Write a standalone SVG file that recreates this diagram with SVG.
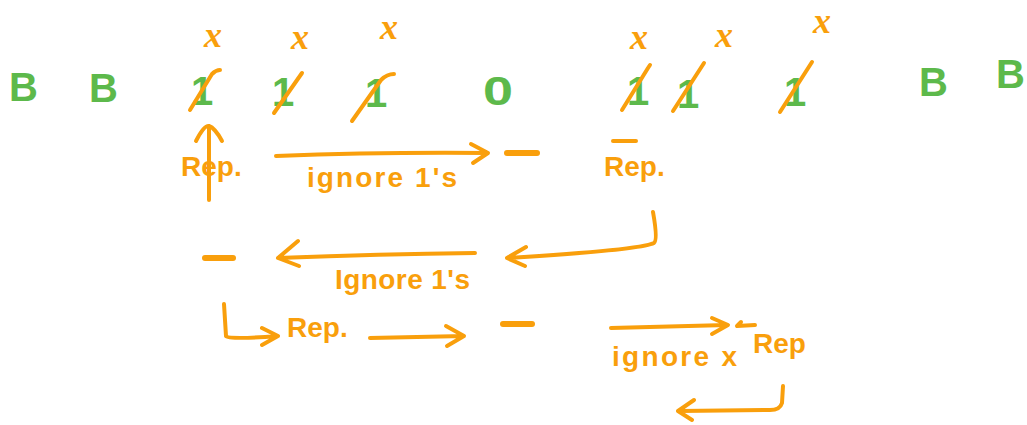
<svg xmlns="http://www.w3.org/2000/svg" width="1027" height="425" viewBox="0 0 1027 425">
<style>
.g{fill:#5db94b;font-family:"Liberation Sans",sans-serif;font-size:40px;font-weight:bold}
.one{fill:#5db94b;font-family:"Liberation Sans",sans-serif;font-size:40px;font-weight:bold;text-anchor:middle}
.x{fill:#f99f0c;font-family:"Liberation Serif",serif;font-style:italic;font-weight:bold;font-size:36px;text-anchor:middle}
.t{fill:#f99f0c;font-family:"Liberation Sans",sans-serif;font-size:28px;font-weight:bold}
.s{fill:none;stroke:#f99f0c;stroke-width:4;stroke-linecap:round;stroke-linejoin:round}
.d{fill:none;stroke:#f99f0c;stroke-width:6;stroke-linecap:round}
</style>
<rect width="1027" height="425" fill="#fff"/>
<g id="B1"><text class="g" x="9" y="101">B</text></g>
<g id="B2"><text class="g" x="89" y="102">B</text></g>
<g id="B3"><text class="g" x="919" y="96">B</text></g>
<g id="B4"><text class="g" x="996" y="88">B</text></g>
<g id="one1"><text class="one" x="202" y="105">1</text><path class="s" d="M190 110 L212 74 Q216 70 220 70"/><text class="x" x="213" y="47">x</text></g>
<g id="one2"><text class="one" x="283" y="106">1</text><path class="s" d="M274 113 L302 73"/><text class="x" x="300" y="49">x</text></g>
<g id="one3"><text class="one" x="376" y="107">1</text><path class="s" d="M352 121 L381 80 Q387 74 394 74"/><text class="x" x="389" y="39">x</text></g>
<g id="zero"><text class="g" transform="translate(483 105) scale(1.35 1)" x="0" y="0">0</text></g>
<g id="one4"><text class="one" x="638" y="105">1</text><path class="s" d="M622 110 L648 68 L650 65"/><text class="x" x="639" y="49">x</text></g>
<g id="one5"><text class="one" x="688" y="108">1</text><path class="s" d="M673 111 L704 63"/><text class="x" x="724" y="47">x</text></g>
<g id="one6"><text class="one" x="795" y="106">1</text><path class="s" d="M780 112 L812 62"/><text class="x" x="822" y="33">x</text></g>
<g id="rep1"><text class="t" x="181" y="176">Rep.</text></g>
<g id="label1"><text class="t" x="307" y="187" textLength="150" lengthAdjust="spacing">ignore 1's</text></g>
<g id="dash1"><path class="d" d="M507 153 L537 153"/></g>
<g id="rep2"><path class="s" d="M613 141 L636 141"/><text class="t" x="604" y="176">Rep.</text></g>
<g id="dash2"><path class="d" d="M205 258 L233 258"/></g>
<g id="label2"><text class="t" x="335" y="289" textLength="135" lengthAdjust="spacing">Ignore 1's</text></g>
<g id="rep3"><text class="t" x="287" y="337">Rep.</text></g>
<g id="dash3"><path class="d" d="M503 324 L532 324"/></g>
<g id="label3"><text class="t" x="612" y="366" textLength="125" lengthAdjust="spacing">ignore x</text></g>
<g id="rep4"><path class="s" d="M741 322 L737 326 L755 325"/><text class="t" x="753" y="353">Rep</text></g>
<g id="connectors">
<path class="s" d="M209 200 L209 128 M196 141 Q204 125 209 126 Q215 128 222 141"/>
<path class="s" d="M276 156 Q380 152 488 153 M471 144 L488 153 L473 163"/>
<path class="s" d="M653 212 Q658 240 654 243 Q640 250 507 258 M526 247 L507 258 L525 266"/>
<path class="s" d="M475 253 Q380 254 278 258 M298 241 L278 258 L299 266"/>
<path class="s" d="M224 304 L226 336 Q228 340 278 336 M262 328 L278 336 L262 345"/>
<path class="s" d="M370 338 L464 336 M446 326 L464 336 L447 346"/>
<path class="s" d="M611 328 L727 325 M712 318 L728 325 L712 334"/>
<path class="s" d="M783 386 L782 403 Q780 410 770 410 L680 411 M694 400 L678 411 L692 420"/>
</g>
</svg>
